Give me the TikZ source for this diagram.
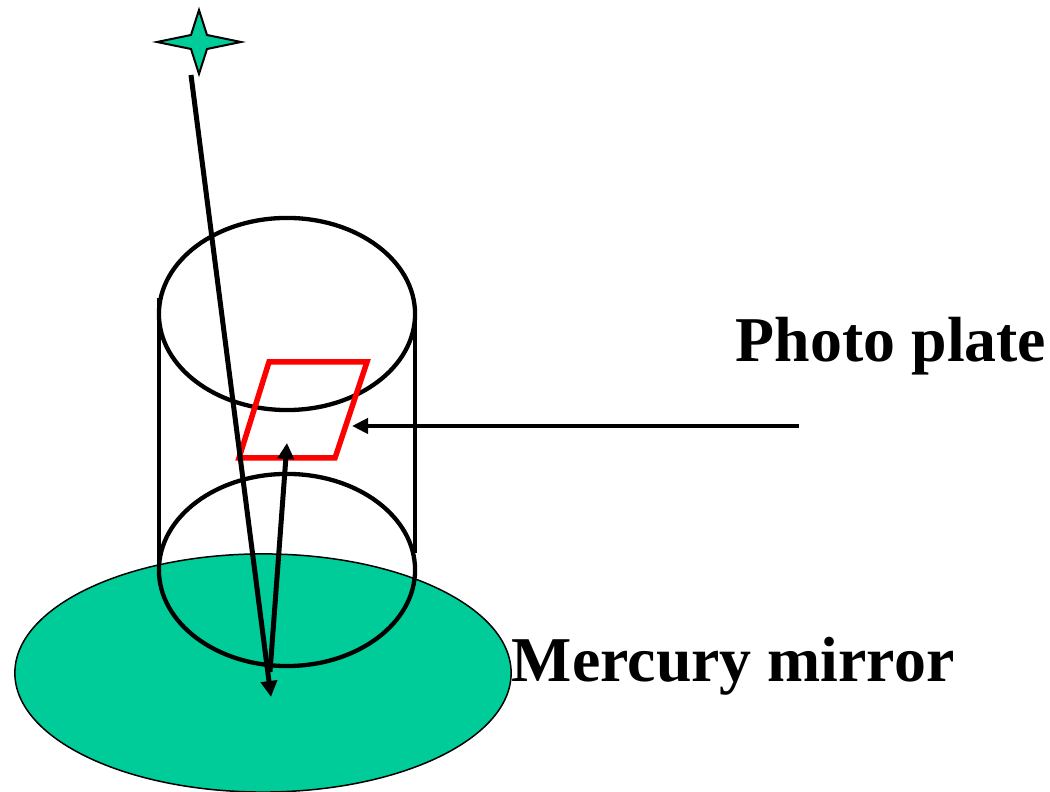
\documentclass[tikz,border=0pt]{standalone}
\usepackage{xcolor}
\usepackage{fontspec}
\setmainfont{Liberation Serif}
\usepackage{tikz}
\usetikzlibrary{arrows.meta,positioning,shapes.geometric}
\definecolor{mygreen}{RGB}{0,204,153}
\definecolor{myred}{RGB}{255,0,0}

\begin{document}
\begin{tikzpicture}[
    x=0.01cm, y=-0.01cm,
    every node/.style={inner sep=0pt, outer sep=0pt},
    mirror/.style={ellipse, draw=black, line width=0.015cm, fill=mygreen,
        minimum width=4.96cm, minimum height=2.38cm},
    rim/.style={ellipse, draw=black, line width=0.043cm,
        minimum width=2.56cm, minimum height=1.92cm},
    wall/.style={black, line width=0.04cm},
    plate/.style={draw=myred, line width=0.055cm, miter limit=10},
    starshape/.style={draw=black, line width=0.02cm, fill=mygreen},
    label/.style={font=\fontsize{18.15pt}{22pt}\selectfont\bfseries, anchor=base west},
    ray/.style={-{Triangle[length=0.16cm, width=0.16cm]}, black, line width=0.05cm},
    pointer/.style={-{Triangle[length=0.16cm, width=0.15cm]}, black, line width=0.04cm}
]
\useasboundingbox (0,0) rectangle (1050,792);
\node[mirror] (pool) at (263,673) {};
\node[rim] (top) at (287,314) {};
\node[rim] (bottom) at (287,570) {};
\draw[plate] (269,362) -- (367,362) -- (335,458) -- (239,458) -- cycle;
\draw[starshape] (199,10) -- (207,35) -- (241,42) -- (207,49) -- (199,74) -- (191,49)
    -- (157,42) -- (191,35) -- cycle;

\coordinate (raystart) at (191,75);
\coordinate (hit) at (271,697);
\coordinate (bounce) at (270,672);
\coordinate (focus) at (287,443);
\coordinate (pointstart) at (799,426);
\coordinate (pointend) at (352,426);
\coordinate (leftup) at (159,298);
\coordinate (leftdown) at (159,570);
\coordinate (rightup) at (415,312);
\coordinate (rightdown) at (415,553);

\draw[wall] (leftup) -- (leftdown);
\draw[wall] (rightup) -- (rightdown);
\draw[ray] (raystart) -- (hit);
\draw[ray] (bounce) -- (focus);
\draw[pointer] (pointstart) -- (pointend);

\node[label] (platelabel) at (736,362) {Photo plate};
\node[label] (mirrorlabel) at (512,682) {Mercury mirror};
\end{tikzpicture}
\end{document}
